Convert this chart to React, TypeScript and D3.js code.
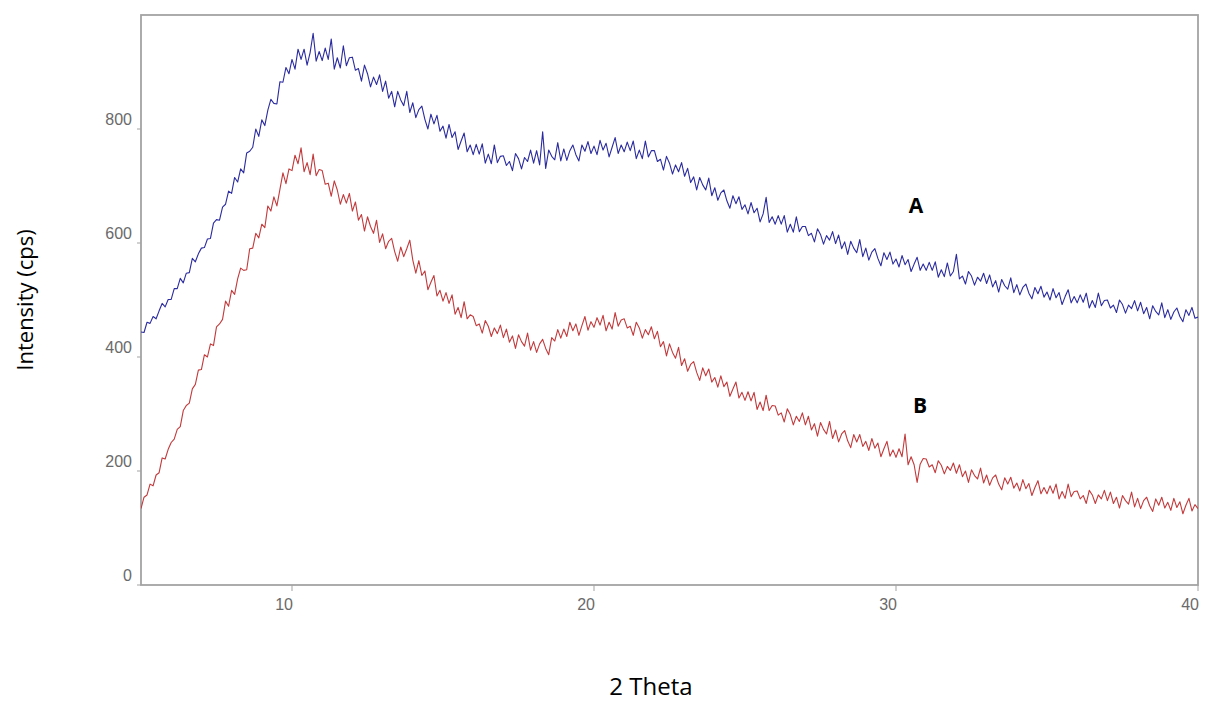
import React from "react";
import * as d3 from "d3";

// 2-theta sampling: 5.0 .. 40.0 in 0.1 steps
const startAngle = 5;
const stepAngle = 0.1;

const seriesA: number[] = [
  444,443,461,459,471,467,481,494,488,501,
  501,520,520,538,530,547,548,573,567,581,
  591,592,607,608,635,641,640,663,668,691,
  687,715,707,730,723,758,761,768,800,787,
  816,806,833,852,845,844,883,882,908,897,
  922,905,940,922,940,912,934,968,919,936,
  920,942,922,958,905,925,907,946,911,925,
  926,903,906,884,912,897,874,891,878,895,
  866,884,854,866,839,866,851,841,866,829,
  846,820,834,840,817,800,826,809,824,796,
  805,784,808,785,795,764,779,793,760,772,
  755,773,756,774,740,756,739,772,741,752,
  753,736,743,727,757,748,730,750,743,763,
  740,762,737,795,731,763,752,746,776,744,
  765,745,762,772,755,744,772,761,778,757,
  770,755,780,763,775,751,768,785,757,772,
  760,777,762,779,748,763,748,779,751,762,
  762,743,747,728,752,740,721,737,725,741,
  717,731,706,716,693,715,702,693,714,683,
  697,675,688,693,674,661,683,669,681,659,
  667,651,671,653,661,637,651,680,636,646,
  633,648,633,648,619,633,619,646,620,629,
  629,613,617,602,625,615,598,613,605,620,
  599,614,590,602,580,603,591,583,606,576,
  591,570,584,590,573,560,583,571,584,563,
  572,558,578,562,571,550,563,575,552,563,
  552,566,552,567,540,553,541,565,542,550,
  580,537,542,528,550,542,526,540,533,547,
  529,544,523,534,514,536,525,519,539,513,
  527,509,522,528,512,502,522,511,524,505,
  514,500,520,504,513,492,506,518,495,506,
  495,509,496,512,486,499,487,512,490,499,
  500,486,491,478,500,492,477,491,485,499,
  481,496,476,487,467,490,480,474,495,469,
  483,466,479,486,471,462,483,473,487,468,
  470,
];

const seriesB: number[] = [
  134,154,158,177,174,193,197,223,221,238,
  250,256,273,278,306,315,319,344,352,377,
  378,404,400,423,420,453,458,466,498,489,
  517,510,537,556,552,553,590,591,617,609,
  633,627,665,656,681,665,694,723,704,730,
  727,754,739,767,725,741,720,756,718,729,
  727,703,705,682,709,693,668,685,670,687,
  656,672,640,650,621,646,629,617,640,601,
  616,590,603,608,585,568,593,576,590,605,
  570,547,569,543,551,518,531,543,507,517,
  498,513,494,509,475,487,469,497,467,474,
  471,455,458,442,464,454,436,451,441,456,
  434,449,426,437,415,439,427,419,442,412,
  427,408,423,431,415,404,434,428,448,433,
  449,436,461,446,458,438,455,471,447,462,
  452,469,456,473,446,461,449,478,454,465,
  467,451,454,438,461,451,433,448,439,453,
  432,445,418,427,402,423,408,398,417,385,
  397,375,387,392,373,359,381,367,379,356,
  364,347,367,348,356,331,344,356,328,338,
  324,339,323,338,308,321,306,333,306,315,
  314,298,302,286,309,299,281,296,287,302,
  281,296,272,283,261,285,273,265,287,257,
  272,251,265,271,253,241,264,251,264,243,
  252,236,257,240,249,225,239,252,226,237,
  224,239,225,265,211,225,211,180,212,222,
  221,207,211,197,218,210,195,208,201,214,
  196,211,190,200,180,202,192,186,205,179,
  193,175,188,193,177,167,188,177,189,170,
  179,165,185,169,178,157,171,183,160,171,
  160,174,161,177,151,164,152,177,155,164,
  165,151,157,143,166,158,143,158,151,166,
  148,163,143,154,135,157,148,142,163,137,
  152,134,148,154,139,129,151,140,154,135,
  145,131,152,136,146,125,140,152,130,141,
  134,
];

const xTicks = [10, 20, 30, 40];
const yTicks = [0, 200, 400, 600, 800];
const seriesLabels = ["A", "B"];

const W = 1206;
const H = 702;
const plot = { left: 141, right: 1198, top: 15, bottom: 585 };

export default function App() {
  const x = d3.scaleLinear().domain([5, 40]).range([plot.left, plot.right]);
  const y = d3.scaleLinear().domain([0, 1000]).range([plot.bottom, plot.top]);

  const line = d3
    .line<number>()
    .x((_, i) => x(startAngle + i * stepAngle))
    .y((d) => y(d));

  const axisColor = "#a3a3a3";
  const tickText = "#6a6a6a";

  return (
    <svg
      width={W}
      height={H}
      style={{ position: "absolute", left: 0, top: 0, background: "#fff" }}
    >
      <rect x={0} y={0} width={W} height={H} fill="#fff" />
      <rect
        x={plot.left}
        y={plot.top}
        width={plot.right - plot.left}
        height={plot.bottom - plot.top}
        fill="none"
        stroke={axisColor}
        strokeWidth={1.8}
      />
      {yTicks.map((t) => (
        <g key={"y" + t}>
          <line x1={plot.left - 4} x2={plot.left} y1={y(t)} y2={y(t)} stroke={axisColor} strokeWidth={1} />
          <text
            x={plot.left - 9}
            y={y(t) - 4}
            textAnchor="end"
            fontFamily="'Liberation Sans', Arial, sans-serif"
            fontSize={16}
            fill={tickText}
          >
            {t}
          </text>
        </g>
      ))}
      {xTicks.map((t) => (
        <g key={"x" + t}>
          <line x1={x(t)} x2={x(t)} y1={plot.bottom} y2={plot.bottom + 6} stroke={axisColor} strokeWidth={1} />
          <text
            x={x(t) + 1}
            y={610}
            textAnchor="end"
            fontFamily="'Liberation Sans', Arial, sans-serif"
            fontSize={16}
            fill={tickText}
          >
            {t}
          </text>
        </g>
      ))}
      <defs>
        <clipPath id="plotclip">
          <rect x={plot.left} y={plot.top} width={plot.right - plot.left} height={plot.bottom - plot.top} />
        </clipPath>
      </defs>
      <g clipPath="url(#plotclip)">
        <path d={line(seriesA) || ""} fill="none" stroke="#2b2ba0" strokeWidth={1.1} strokeLinejoin="round" />
        <path d={line(seriesB) || ""} fill="none" stroke="#c23a3c" strokeWidth={1.1} strokeLinejoin="round" />
      </g>
      <text x={916} y={213} textAnchor="middle" fontFamily="'Open Sans', sans-serif" fontWeight="bold" fontSize={21} fill="#000">
        {seriesLabels[0]}
      </text>
      <text x={920} y={413} textAnchor="middle" fontFamily="'Open Sans', sans-serif" fontWeight="bold" fontSize={21} fill="#000">
        {seriesLabels[1]}
      </text>
      <text
        transform="translate(33,300) rotate(-90)"
        textAnchor="middle"
        fontFamily="'Open Sans', sans-serif"
        fontSize={22}
        fill="#000"
      >
        Intensity (cps)
      </text>
      <text x={651} y={695} textAnchor="middle" fontFamily="'Open Sans', sans-serif" fontSize={24} fill="#000">
        2 Theta
      </text>
    </svg>
  );
}
